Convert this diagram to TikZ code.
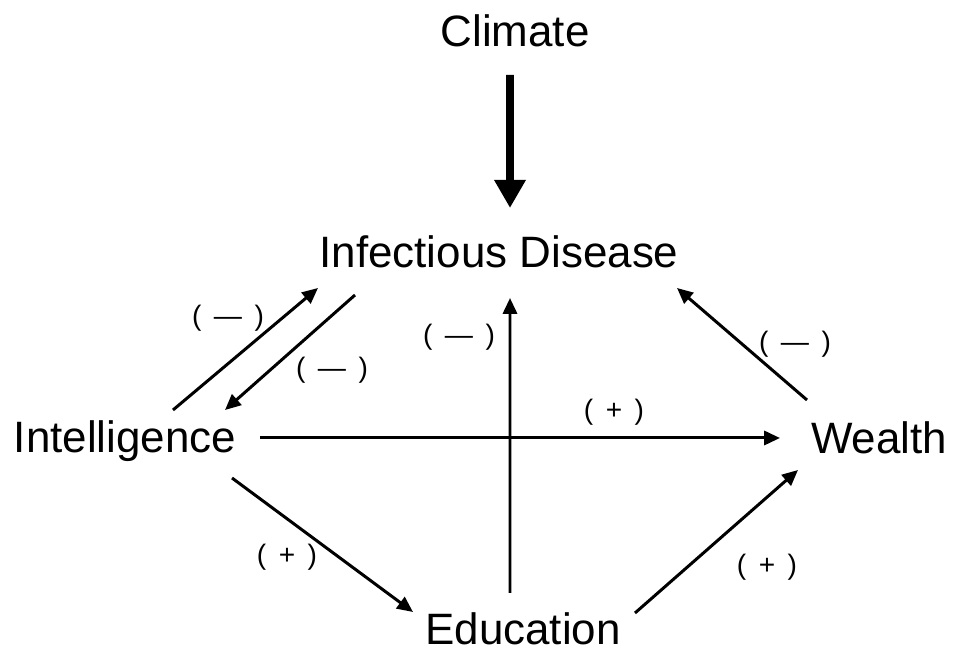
\documentclass[tikz,border=0pt]{standalone}
\usepackage{fontspec}
\setmainfont{Liberation Sans}
\usetikzlibrary{arrows.meta}
\begin{document}
\begin{tikzpicture}
\tikzstyle{factor} = [inner sep=0pt, anchor=base, font=\fontsize{25}{30}\selectfont] % variable names
\tikzstyle{sign} = [inner sep=0pt, font=\fontsize{16}{19}\selectfont] % sign of the effect
\tikzstyle{arr} = [-{Triangle[length=9pt,width=8pt]}, line width=1.7pt] % ordinary link
\tikzstyle{bigarr} = [-{Triangle[length=16pt,width=17pt]}, line width=4.5pt] % climate link
\useasboundingbox (0,0) rectangle (19.1,13.08);

%
\node[factor] (climate) at (10.3,12.14) {Climate};
\node[factor] (infect) at (9.98,7.72) {Infectious Disease};
\node[factor] (intel) at (2.5,4.02) {Intelligence};
\node[factor] (wealth) at (17.58,4.0) {Wealth};
\node[factor] (educ) at (10.46,0.18) {Education};

% links
\draw[bigarr] ([shift={(-0.1,-0.56)}]climate.base) -- ([shift={(0.22,1.2)}]infect.base);
\draw[arr] ([shift={(0.96,0.86)}]intel.base) -- ([shift={(-3.62,-0.4)}]infect.base);
\draw[arr] ([shift={(-2.88,-0.54)}]infect.base) -- ([shift={(2.0,0.86)}]intel.base);
\draw[arr] ([shift={(-0.26,1.04)}]educ.base) -- ([shift={(0.22,-0.6)}]infect.base);
\draw[arr] ([shift={(2.7,0.3)}]intel.base) -- ([shift={(-1.98,0.32)}]wealth.base);
\draw[arr] ([shift={(-1.44,1.08)}]wealth.base) -- ([shift={(3.56,-0.4)}]infect.base);
\draw[arr] ([shift={(2.14,-0.5)}]intel.base) -- ([shift={(-2.2,0.66)}]educ.base);
\draw[arr] ([shift={(2.24,0.64)}]educ.base) -- ([shift={(-1.62,-0.32)}]wealth.base);

% signs
\node[sign] (s1) at (4.56,6.72) {( \,---\, )};
\node[sign] (s2) at (6.64,5.68) {( \,---\, )};
\node[sign] (s3) at (9.18,6.34) {( \,---\, )};
\node[sign] (s4) at (12.28,4.84) {( \,+\, )};
\node[sign] (s5) at (15.9,6.2) {( \,---\, )};
\node[sign] (s6) at (5.74,1.94) {( \,+\, )};
\node[sign] (s7) at (15.34,1.74) {( \,+\, )};
\end{tikzpicture}
\end{document}
